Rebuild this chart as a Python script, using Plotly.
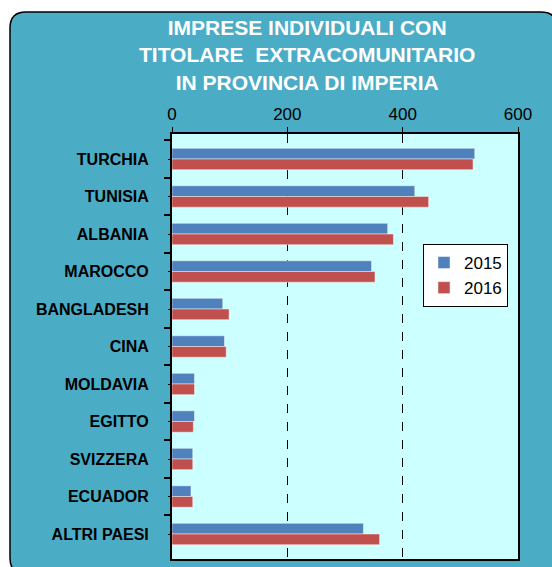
import plotly.graph_objects as go

countries = ["TURCHIA", "TUNISIA", "ALBANIA", "MAROCCO", "BANGLADESH", "CINA",
             "MOLDAVIA", "EGITTO", "SVIZZERA", "ECUADOR", "ALTRI PAESI"]
vals_2015 = [525, 421, 374, 346, 88, 91, 39, 39, 36, 33, 332]
vals_2016 = [522, 445, 384, 352, 99, 94, 39, 37, 36, 36, 360]
x_ticks = [0, 200, 400, 600]
title_lines = ["IMPRESE INDIVIDUALI CON", "TITOLARE  EXTRACOMUNITARIO", "IN PROVINCIA DI IMPERIA"]

BLUE = "#4F81BD"
RED = "#C0504D"
TEAL = "#4BACC6"
PLOT_BG = "#CCFFFF"
FONT = "Liberation Sans, Arial, sans-serif"

W, H = 552, 567
ML, MR, MT, MB = 172, 34, 134, 8
PW, PH = W - ML - MR, H - MT - MB


def px2paper(x, y):
    return (x - ML) / PW, (H - MB - y) / PH


def rounded_rect(x0, y0, x1, y1, r):
    def p(x, y):
        a, b = px2paper(x, y)
        return f"{a:.5f},{b:.5f}"
    return (f"M {p(x0 + r, y0)} L {p(x1 - r, y0)} Q {p(x1, y0)} {p(x1, y0 + r)} "
            f"L {p(x1, y1 - r)} Q {p(x1, y1)} {p(x1 - r, y1)} "
            f"L {p(x0 + r, y1)} Q {p(x0, y1)} {p(x0, y1 - r)} "
            f"L {p(x0, y0 + r)} Q {p(x0, y0)} {p(x0 + r, y0)} Z")


fig = go.Figure()
fig.add_trace(go.Bar(y=countries, x=vals_2015, name="2015", orientation="h",
                     marker=dict(color=BLUE, line=dict(color="rgba(255,255,255,0.45)", width=1))))
fig.add_trace(go.Bar(y=countries, x=vals_2016, name="2016", orientation="h",
                     marker=dict(color=RED, line=dict(color="rgba(255,255,255,0.45)", width=1))))
# invisible trace carrying the centre ticks
fig.add_trace(go.Scatter(y=countries, x=[0] * len(countries), yaxis="y2", mode="markers",
                         marker=dict(opacity=0), showlegend=False, hoverinfo="skip"))

tx, ty = px2paper(307, 55)
title_ann = dict(
    text="<br>".join(title_lines), xref="paper", yref="paper",
    x=tx, y=ty, xanchor="center", yanchor="middle", showarrow=False, align="center",
    font=dict(family=FONT, size=21, color="white", weight="bold"),
)

fig.update_layout(
    width=W, height=H,
    margin=dict(l=ML, r=MR, t=MT, b=MB),
    paper_bgcolor="white",
    plot_bgcolor=PLOT_BG,
    barmode="group",
    bargap=0.43,
    bargroupgap=0,
    font=dict(family=FONT, color="black"),
    annotations=[title_ann],
    xaxis=dict(
        side="top", range=[0, 600], tickvals=x_ticks,
        showgrid=True, gridcolor="black", griddash="dash", gridwidth=1,
        showline=True, linecolor="black", linewidth=2, mirror=True,
        ticks="outside", ticklen=5, tickcolor="black",
        tickfont=dict(size=17), zeroline=False, automargin=False,
    ),
    yaxis=dict(
        autorange="reversed", categoryorder="array", categoryarray=countries,
        tickson="boundaries", ticks="outside", ticklen=6, tickcolor="black", tickwidth=2,
        showline=True, linecolor="black", linewidth=2, mirror=True,
        showgrid=False, tickfont=dict(size=16, weight="bold"), ticklabelstandoff=18,
        automargin=False,
    ),
    yaxis2=dict(
        overlaying="y", matches="y", side="left", showticklabels=False,
        ticks="outside", ticklen=3, tickcolor="black", tickwidth=1,
        showgrid=False, showline=False, automargin=False,
    ),
    legend=dict(
        x=px2paper(423, 244)[0], y=px2paper(423, 244)[1], xanchor="left", yanchor="top",
        bgcolor="white", bordercolor="black", borderwidth=1,
        font=dict(size=17), traceorder="normal",
    ),
    shapes=[
        dict(type="path", xref="paper", yref="paper", layer="below",
             path=rounded_rect(10, 12, 557, 574, 16),
             fillcolor=TEAL, line=dict(color="black", width=1.5)),
        dict(type="rect", xref="paper", yref="paper", layer="below",
             x0=0, x1=1, y0=0, y1=1, fillcolor=PLOT_BG, line=dict(width=0)),
    ],
)

# drop the page's default body margin so the figure sits at the window's corner
fig.write_html("out.html", config={"displayModeBar": False},
               post_script="document.body.style.margin='0';")
